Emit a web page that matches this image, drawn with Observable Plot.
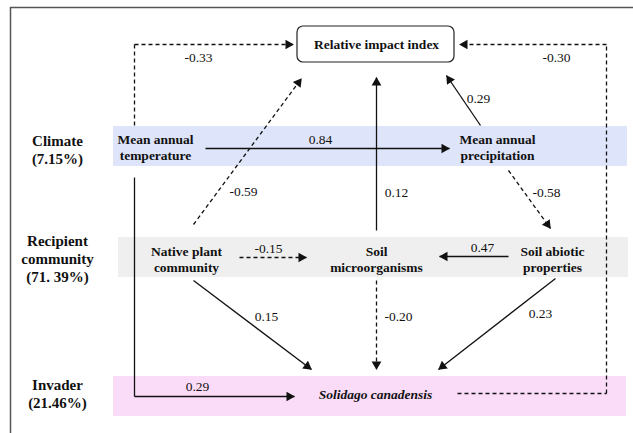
<!DOCTYPE html>
<html>
<head>
<meta charset="utf-8">
<script src="https://cdn.jsdelivr.net/npm/d3@7"></script>
<script src="https://cdn.jsdelivr.net/npm/@observablehq/plot@0.6"></script>
<style>
  html, body { margin: 0; padding: 0; background: #fff; }
  svg { display: block; }
</style>
</head>
<body>
<div id="chart"></div>
<script>
// ---- Data ----
const groupNames = ["Climate", "Recipient\ncommunity", "Invader"];
const groupShares = ["(7.15%)", "(71. 39%)", "(21.46%)"];
const groupColors = ["#dee4f9", "#efefef", "#fbdcf8"];

const nodeNames = [
  "Relative impact index",
  "Mean annual\ntemperature",
  "Mean annual\nprecipitation",
  "Native plant\ncommunity",
  "Soil\nmicroorganisms",
  "Soil abiotic\nproperties",
  "Solidago canadensis"
];

const pathFrom = ["temperature", "invader", "temperature", "precipitation", "microorganisms", "native", "precipitation", "native", "abiotic", "native", "microorganisms", "abiotic", "temperature"];
const pathTo   = ["impact", "impact", "precipitation", "impact", "impact", "impact", "abiotic", "microorganisms", "microorganisms", "invader", "invader", "invader", "invader"];
const coefficients = [-0.33, -0.30, 0.84, 0.29, 0.12, -0.59, -0.58, -0.15, 0.47, 0.15, -0.20, 0.23, 0.29];

// ---- Diagram layout (diagram units) ----
const bandLayout = [
  {x1: 113, x2: 627, y1: 126, y2: 166, ly: 149},
  {x1: 118, x2: 628, y1: 237, y2: 277, ly: 258},
  {x1: 113, x2: 626, y1: 376, y2: 416, ly: 393}
];
const nodeLayout = [
  {x: 376, y: 44}, {x: 155, y: 146}, {x: 497, y: 146},
  {x: 186, y: 258}, {x: 376, y: 258}, {x: 552, y: 258}, {x: 375, y: 394}
];
const pathRoutes = [
  [[134, 125], [134, 44], [293, 44]],
  [[457, 393], [606, 393], [606, 44], [459, 44]],
  [[205, 148], [449, 148]],
  [[480, 125], [446, 75]],
  [[376, 230], [376, 77]],
  [[193, 224], [301, 78]],
  [[508, 170], [550, 228]],
  [[239, 257], [306, 257]],
  [[508, 256], [439, 256]],
  [[193, 280], [311, 369]],
  [[376, 280], [376, 369]],
  [[555, 278], [438, 369]],
  [[134, 177], [134, 396], [294, 396]]
];
const labelLayout = [
  [198, 57], [556, 57], [320, 139], [478, 98], [396, 192], [243, 191],
  [546, 192], [268, 248], [482, 247], [266, 316], [398, 316], [540, 313], [197, 386]
];

// ---- Build tables ----
const bands = groupNames.map((g, i) => ({name: g, share: groupShares[i], color: groupColors[i], ...bandLayout[i]}));
const nodes = nodeNames.map((n, i) => ({name: n, ...nodeLayout[i]}));
const paths = coefficients.map((c, i) => ({
  from: pathFrom[i], to: pathTo[i], coef: c, route: pathRoutes[i],
  dashed: c < 0, lx: labelLayout[i][0], ly: labelLayout[i][1]
}));

const segments = paths.flatMap((p, i) => p.route.slice(1).map((pt, j) => ({
  id: i, x1: p.route[j][0], y1: p.route[j][1], x2: pt[0], y2: pt[1], dashed: p.dashed
})));

const heads = paths.map(p => {
  const a = p.route[p.route.length - 2], b = p.route[p.route.length - 1];
  const dx = b[0] - a[0], dy = b[1] - a[1];
  const len = Math.hypot(dx, dy);
  const off = 5.2;
  return {
    x: b[0] - dx / len * off, y: b[1] - dy / len * off,
    angle: Math.atan2(dx, -dy) * 180 / Math.PI
  };
});

const fmt = v => v.toFixed(2);
const serif = "'Liberation Serif', 'DejaVu Serif', serif";

const nodeBold = nodes.filter(n => n.name !== "Solidago canadensis" && n.name !== "Relative impact index");

const chart = Plot.plot({
  width: 633,
  height: 433,
  margin: 0,
  x: {domain: [0, 633], range: [0, 633], axis: null},
  y: {domain: [0, 433], range: [0, 433], axis: null},
  style: {background: "#fff"},
  marks: [
    // frame
    Plot.ruleY([7], {x1: 10, x2: 633, stroke: "#555", strokeWidth: 1.5}),
    Plot.ruleX([10], {y1: 7, y2: 433, stroke: "#555", strokeWidth: 1.5}),
    // bands
    Plot.rect(bands, {x1: "x1", x2: "x2", y1: "y1", y2: "y2", fill: "color"}),
    // group labels
    Plot.text(bands, {x: 57, y: "ly", text: d => d.name + "\n" + d.share, fontSize: 15, fontWeight: "bold", fill: "#111", lineHeight: 1.2}),
    // relative impact box
    Plot.rect([nodes[0]], {x1: d => d.x - 79, x2: d => d.x + 78, y1: d => d.y - 18, y2: d => d.y + 18, fill: "#fff", stroke: "#222", strokeWidth: 1.2, rx: 6}),
    // path lines
    Plot.link(segments.filter(s => !s.dashed), {x1: "x1", y1: "y1", x2: "x2", y2: "y2", stroke: "#111", strokeWidth: 1.3}),
    Plot.link(segments.filter(s => s.dashed), {x1: "x1", y1: "y1", x2: "x2", y2: "y2", stroke: "#111", strokeWidth: 1.3, strokeDasharray: "4,3"}),
    // arrow heads
    Plot.dot(heads, {x: "x", y: "y", symbol: "triangle", r: 3.6, fill: "#111", stroke: "none", rotate: "angle"}),
    // coefficient labels
    Plot.text(paths, {x: "lx", y: "ly", text: d => fmt(d.coef), fontSize: 13.5, fill: "#111"}),
    // nodes
    Plot.text([nodes[0]], {x: "x", y: "y", text: "name", fontSize: 13.5, fontWeight: "bold", fill: "#111"}),
    Plot.text(nodeBold, {x: "x", y: "y", text: "name", fontSize: 13.5, fontWeight: "bold", fill: "#111", lineHeight: 1.18}),
    Plot.text([nodes[6]], {x: "x", y: "y", text: "name", fontSize: 13.5, fontWeight: "bold", fontStyle: "italic", fill: "#111"})
  ]
});
d3.select(chart).attr("font-family", serif).style("font-family", serif);
d3.select(chart).selectAll("text, tspan").attr("font-family", serif).style("font-family", serif);
document.getElementById("chart").appendChild(chart);
</script>
</body>
</html>
